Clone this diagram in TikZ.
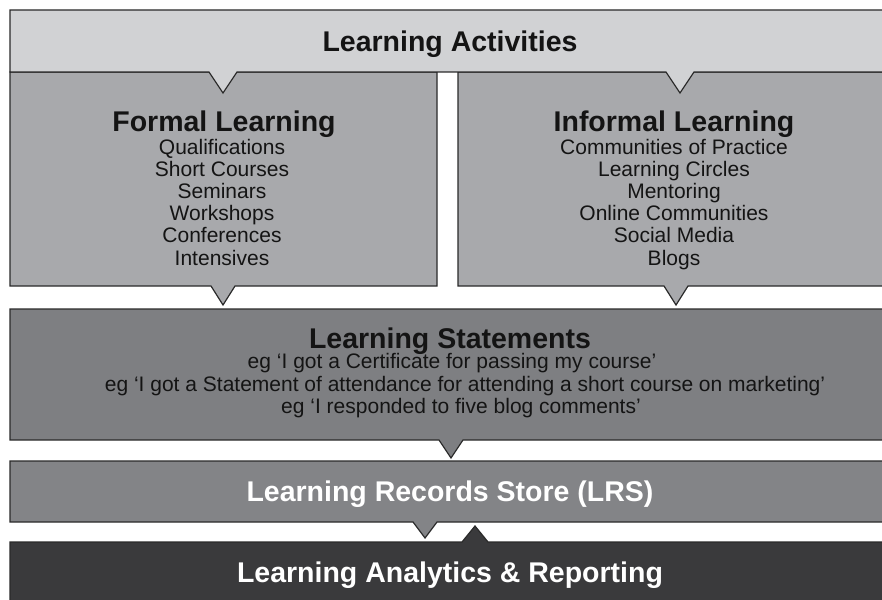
\documentclass[tikz,border=0pt]{standalone}
\usepackage{fontspec}
\setmainfont{Liberation Sans}
\definecolor{actfill}{HTML}{D1D2D4}
\definecolor{learnfill}{HTML}{A8A9AC}
\definecolor{stmtfill}{HTML}{7E7F82}
\definecolor{lrsfill}{HTML}{838487}
\definecolor{repfill}{HTML}{3A3A3C}
\definecolor{edge}{HTML}{2A2A2A}
\definecolor{ink}{HTML}{141414}
\tikzset{
  panel/.style={draw=edge, line width=1.2pt, line join=miter},
  headtext/.style={anchor=base, font=\fontsize{28.5}{30}\selectfont\bfseries, text=ink, inner sep=0pt},
  itemtext/.style={anchor=base, font=\fontsize{21}{22}\selectfont, text=ink, inner sep=0pt},
  lighthead/.style={headtext, text=white},
}
\begin{document}
\begin{tikzpicture}[x=1pt, y=-1pt]
\useasboundingbox (0,0) rectangle (882,599);

% Formal and informal learning panels, each with a notch pointing down
\path[panel, fill=learnfill] (10,72) -- (437,72) -- (437,286) -- (235,286) -- (223,305) -- (211,286) -- (10,286) -- cycle;
\path[panel, fill=learnfill] (458,72) -- (895,72) -- (895,286) -- (688,286) -- (676,305) -- (664,286) -- (458,286) -- cycle;

% Learning activities band with notches into both panels
\path[panel, fill=actfill] (10,10) -- (895,10) -- (895,72) -- (694,72) -- (680,93) -- (666,72)
  -- (237,72) -- (223,93) -- (209,72) -- (10,72) -- cycle;

% Learning statements band
\path[panel, fill=stmtfill] (10,309) -- (895,309) -- (895,440) -- (463,440) -- (451,458) -- (439,440) -- (10,440) -- cycle;

% Learning records store band
\path[panel, fill=lrsfill] (10,461) -- (895,461) -- (895,522) -- (437,522) -- (425,538) -- (413,522) -- (10,522) -- cycle;

% Analytics band with a notch pointing up
\path[panel, fill=repfill] (10,610) -- (10,542) -- (462,542) -- (475,526) -- (488,542) -- (895,542) -- (895,610) -- cycle;

% Headings
\node[headtext] (act) at (450,52) {Learning Activities};
\node[headtext] (formal) at (224,131) {Formal Learning};
\node[headtext] (informal) at (674,131) {Informal Learning};
\node[headtext] (stmt) at (450,348) {Learning Statements};
\node[lighthead] (lrs) at (450,501) {Learning Records Store (LRS)};
\node[lighthead] (rep) at (450,582) {Learning Analytics \& Reporting};

% Formal learning items
\foreach \t [count=\i from 0] in {Qualifications, Short Courses, Seminars, Workshops, Conferences, Intensives}
  \node[itemtext] (f\i) at (222, 154+22.2*\i) {\t};

% Informal learning items
\foreach \t [count=\i from 0] in {Communities of Practice, Learning Circles, Mentoring, Online Communities, Social Media, Blogs}
  \node[itemtext] (n\i) at (674, 154+22.2*\i) {\t};

% Example statements
\node[itemtext] (s0) at (452,368) {eg ‘I got a Certificate for passing my course’};
\node[itemtext] (s1) at (465,391) {eg ‘I got a Statement of attendance for attending a short course on marketing’};
\node[itemtext] (s2) at (461,413) {eg ‘I responded to five blog comments’};
\end{tikzpicture}
\end{document}
